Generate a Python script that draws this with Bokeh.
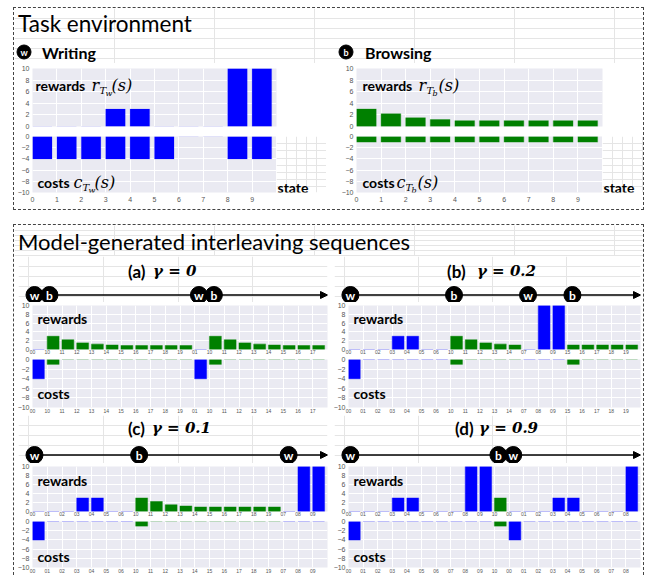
from bokeh.plotting import figure
from bokeh.layouts import column, row
from bokeh.models import FixedTicker, Arrow, NormalHead, Range1d, Spacer
from bokeh.embed import file_html
from bokeh.resources import INLINE
from bokeh.core.properties import value

# ---------------- data ----------------
ENV_STATES = ["0", "1", "2", "3", "4", "5", "6", "7", "8", "9"]
STATE_AXIS_LABEL = "state"
WRITING_REWARDS = [0, 0, 0, 3, 3, 0, 0, 0, 10, 10]
WRITING_COSTS = [-4, -4, -4, -4, -4, -4, 0, 0, -4, -4]
BROWSING_REWARDS = [3.0, 2.2, 1.5, 1.2, 1.0, 1.0, 1.0, 1.0, 1.0, 1.0]
BROWSING_COSTS = [-1, -1, -1, -1, -1, -1, -1, -1, -1, -1]

REWARD_TICKS = [0, 2, 4, 6, 8, 10]
COST_TICKS = [-10, -8, -6, -4, -2, 0]

A_LABELS = ["00", "10", "11", "12", "13", "14", "15", "16", "17", "18", "19",
            "01", "10", "11", "12", "13", "14", "15", "16", "17"]
A_REWARDS = [0, 3.0, 2.2, 1.5, 1.2, 1.0, 0.9, 0.9, 0.9, 0.9, 0.9,
             0, 3.0, 2.2, 1.5, 1.2, 1.0, 0.9, 0.9, 0.9]
A_COSTS = [-4, -1, 0, 0, 0, 0, 0, 0, 0, 0, 0,
           -4, -1, 0, 0, 0, 0, 0, 0, 0]

B_LABELS = ["00", "01", "02", "03", "04", "05", "06", "10", "11", "12", "13", "14",
            "07", "08", "09", "15", "16", "17", "18", "19"]
B_REWARDS = [0, 0, 0, 3, 3, 0, 0, 3.0, 2.2, 1.5, 1.2, 1.0,
             0, 10, 10, 1.0, 1.0, 1.0, 1.0, 1.0]
B_COSTS = [-4, 0, 0, 0, 0, 0, 0, -1, 0, 0, 0, 0,
           0, 0, 0, -1, 0, 0, 0, 0]

C_LABELS = ["00", "01", "02", "03", "04", "05", "06", "10", "11", "12", "13", "14",
            "15", "16", "17", "18", "19", "07", "08", "09"]
C_REWARDS = [0, 0, 0, 3, 3, 0, 0, 3.0, 2.2, 1.5, 1.2, 1.0,
             1.0, 1.0, 1.0, 1.0, 1.0, 0, 10, 10]
C_COSTS = [-4, 0, 0, 0, 0, 0, 0, -1, 0, 0, 0, 0,
           0, 0, 0, 0, 0, 0, 0, 0]

D_LABELS = ["00", "01", "02", "03", "04", "05", "06", "07", "08", "09", "10",
            "00", "01", "02", "03", "04", "05", "06", "07", "08"]
D_REWARDS = [0, 0, 0, 3, 3, 0, 0, 0, 10, 10, 3.0,
             0, 0, 0, 3, 3, 0, 0, 0, 10]
D_COSTS = [-4, 0, 0, 0, 0, 0, 0, 0, 0, 0, -1,
           -4, 0, 0, 0, 0, 0, 0, 0, 0]

TITLES = {"a": ("(a)", "γ = 0"), "b": ("(b)", "γ = 0.2"),
          "c": ("(c)", "γ = 0.1"), "d": ("(d)", "γ = 0.9")}

# ---------------- style ----------------
BG = "#EAEAF2"
BLUE = "#0000FF"
GREEN = "#008000"
TICK_COLOR = "#555555"
SANS = "Lato"
SERIF = "DejaVu Serif"
DASH = "1.5px dashed #444444"


def base_fig(width, height, xr, yr, bl, br, bt, bb, x_axis=True, y_axis=True):
    p = figure(width=width, height=height, x_range=xr, y_range=yr,
               output_backend="svg", toolbar_location=None, title=None,
               x_axis_location="below" if x_axis else None,
               y_axis_location="left" if y_axis else None,
               min_border_left=bl, min_border_right=br,
               min_border_top=bt, min_border_bottom=bb)
    p.outline_line_color = None
    p.border_fill_color = None
    return p


def quiet_axis(ax, font, stand, color=TICK_COLOR, family="Liberation Sans"):
    ax.axis_line_color = None
    ax.major_tick_line_color = None
    ax.minor_tick_line_color = None
    ax.major_tick_out = 0
    ax.major_tick_in = 0
    ax.minor_tick_out = 0
    ax.minor_tick_in = 0
    ax.major_label_text_font_size = font
    ax.major_label_text_font = family
    ax.major_label_text_color = color
    ax.major_label_standoff = stand


def task_colors(labels):
    return [BLUE if lab[0] == "0" else GREEN for lab in labels]


def panel(vals, colors, yticks, width, height, bl, br, bt, bb,
          tick_labels=None, xfont="5px", xstand=1, zero_alpha=0.45):
    n = len(vals)
    yr = Range1d(0, 10) if yticks[0] == 0 else Range1d(-10, 0)
    p = base_fig(width, height, Range1d(0, n), yr, bl, br, bt, bb,
                 x_axis=tick_labels is not None)
    p.background_fill_color = BG
    p.yaxis.ticker = FixedTicker(ticks=yticks)
    for ax in p.yaxis:
        quiet_axis(ax, "7px", 3)
    if tick_labels is not None:
        p.xaxis.ticker = FixedTicker(ticks=list(range(n)))
        p.xaxis.major_label_overrides = {i: t for i, t in enumerate(tick_labels)}
        for ax in p.xaxis:
            quiet_axis(ax, xfont, xstand)
    p.xgrid.ticker = FixedTicker(ticks=list(range(n + 1)))
    p.ygrid.ticker = FixedTicker(ticks=yticks)
    p.xgrid.grid_line_color = "white"
    p.ygrid.grid_line_color = "white"
    p.xgrid.grid_line_width = 1
    p.ygrid.grid_line_width = 1
    xs = [i + 0.4 for i in range(n)]
    p.vbar(x=xs, width=0.8, top=vals, bottom=0, fill_color=colors,
           line_color=colors, line_alpha=zero_alpha, line_width=1.2)
    return p


def math_label(p, y, word, var, sub, subsub, offs):
    ow, ov, os_, oss, op = offs
    p.text(x=[0], y=[y], text=[word], x_offset=ow, text_font=value(SANS),
           text_font_style="bold", text_font_size="14px", text_baseline="middle",
           text_color="black")
    p.text(x=[0], y=[y], text=[var], x_offset=ov, y_offset=0, text_font=value(SERIF),
           text_font_style="italic", text_font_size="16px", text_baseline="middle",
           text_color="black")
    p.text(x=[0], y=[y], text=[sub], x_offset=os_, y_offset=5, text_font=value(SERIF),
           text_font_style="italic", text_font_size="10px", text_baseline="middle",
           text_color="black")
    p.text(x=[0], y=[y], text=[subsub], x_offset=oss, y_offset=8, text_font=value(SERIF),
           text_font_style="italic", text_font_size="8px", text_baseline="middle",
           text_color="black")
    p.text(x=[0], y=[y], text=["(s)"], x_offset=op, y_offset=0, text_font=value(SERIF),
           text_font_style="italic", text_font_size="16px", text_baseline="middle",
           text_color="black")


def word_label(p, y, word, off=5):
    p.text(x=[0], y=[y], text=[word], x_offset=off, text_font=value(SANS),
           text_font_style="bold", text_font_size="14px", text_baseline="middle",
           text_color="black")


def state_fig(width, height, label_y):
    # a small blank strip to the right of a costs panel holding the "state" caption
    p = base_fig(width, height, Range1d(0, width), Range1d(height, 0), 0, 0, 0, 0,
                 False, False)
    p.background_fill_color = None
    p.text(x=[1], y=[label_y], text=[STATE_AXIS_LABEL], text_font=value(SANS),
           text_font_style="bold", text_font_size="14px", text_baseline="middle",
           text_color="black")
    return p


def timeline(labels, width, bl, br, height, key, x0, x1, ty, ly, frame_w):
    n = len(labels)
    ppu = frame_w / n
    pad = 10
    p = base_fig(width, height, Range1d(-pad / ppu, n), Range1d(height, 0),
                 bl - pad, br, 0, 0, False, False)
    p.background_fill_color = None
    tasks = [lab[0] for lab in labels]
    sw = [i for i in range(n) if i == 0 or tasks[i] != tasks[i - 1]]
    xs = [i + 0.4 for i in sw]
    p.add_layout(Arrow(end=NormalHead(size=7, fill_color="black", line_color="black"),
                       x_start=xs[0], y_start=ly, x_end=n, y_end=ly,
                       line_color="black", line_width=1.6, level="underlay"))
    p.scatter(x=xs, y=[ly] * len(xs), size=17, fill_color="black", line_color="black")
    p.text(x=xs, y=[ly] * len(xs), text=["w" if tasks[i] == "0" else "b" for i in sw],
           text_color="white", text_align="center", text_baseline="middle",
           text_font=value(SANS), text_font_style="bold", text_font_size="12px")
    part0, part1 = TITLES[key]
    p.text(x=[x0], y=[ty], text=[part0], text_font=value(SANS), text_font_style="bold",
           text_font_size="17px", text_baseline="middle", text_color="black")
    p.text(x=[x1], y=[ty], text=[part1], text_font=value(SERIF),
           text_font_style="bold italic", text_font_size="15px",
           text_baseline="middle", text_color="black")
    return p


# ---------------- task environment ----------------
IW = 629
hdr_env = base_fig(IW, 55, Range1d(0, IW), Range1d(55, 0), 0, 0, 0, 0, False, False)
hdr_env.background_fill_color = None
hdr_env.text(x=[3.5], y=[14.5], text=["Task environment"], text_font=value(SANS),
             text_font_size="22.5px", text_baseline="middle", text_color="black")
hdr_env.scatter(x=[9.5, 331.5], y=[43.5, 43.5], size=14, fill_color="black",
                line_color="black")
hdr_env.text(x=[9.5, 331.5], y=[43.5, 43.5], text=["w", "b"], text_color="white",
             text_align="center", text_baseline="middle", text_font=value(SANS),
             text_font_style="bold", text_font_size="9px")
hdr_env.text(x=[27.5, 350.5], y=[43.5, 43.5], text=["Writing", "Browsing"],
             text_font=value(SANS), text_font_style="bold", text_font_size="16px",
             text_baseline="middle", text_color="black")

rew_w = panel(WRITING_REWARDS, [BLUE] * 10, REWARD_TICKS, 312, 68, 18, 50, 5, 5,
              zero_alpha=0.15)
cost_w = panel(WRITING_COSTS, [BLUE] * 10, COST_TICKS, 262, 78, 18, 0, 5, 17,
               tick_labels=ENV_STATES, xfont="7px", xstand=4, zero_alpha=0.15)
rew_b = panel(BROWSING_REWARDS, [GREEN] * 10, REWARD_TICKS, 317, 68, 30, 41, 5, 5,
              zero_alpha=0.3)
cost_b = panel(BROWSING_COSTS, [GREEN] * 10, COST_TICKS, 276, 78, 30, 0, 5, 17,
               tick_labels=ENV_STATES, xfont="7px", xstand=4, zero_alpha=0.3)

math_label(rew_w, 7.15, "rewards", "r", "T", "w", (3, 59, 67, 73, 79))
math_label(cost_w, -8.3, "costs", "c", "T", "w", (5, 41, 50, 56, 62))
math_label(rew_b, 7.15, "rewards", "r", "T", "b", (6, 62, 70, 76, 82))
math_label(cost_b, -8.3, "costs", "c", "T", "b", (6, 40, 49, 55, 61))

st_w = state_fig(50, 78, 70.5)
st_b = state_fig(41, 78, 70.5)

top_box = column(
    hdr_env,
    row(column(rew_w, row(cost_w, st_w, spacing=0), spacing=0),
        column(rew_b, row(cost_b, st_b, spacing=0), spacing=0), spacing=0),
    spacing=0, styles={"border": DASH})

# ---------------- sequences ----------------
hdr_seq = base_fig(IW, 31, Range1d(0, IW), Range1d(31, 0), 0, 0, 0, 0, False, False)
hdr_seq.background_fill_color = None
hdr_seq.text(x=[3.5], y=[15.5], text=["Model-generated interleaving sequences"],
             text_font=value(SANS), text_font_size="22px", text_baseline="middle",
             text_color="black")

WL, WR = 316, 313
FL, FR = 299, 296


def seq_block(labels, rewards, costs, key, width, br, frame_w, hh, rh, ch, x0, x1, ty, ly,
              ry, cy):
    cols = task_colors(labels)
    t = timeline(labels, width, 14, br, hh, key, x0, x1, ty, ly, frame_w)
    r = panel(rewards, cols, REWARD_TICKS, width, rh, 14, br, 3, 6,
              tick_labels=labels, xfont="5px", xstand=0)
    c = panel(costs, cols, COST_TICKS, width, ch, 14, br, 3, 8,
              tick_labels=labels, xfont="5px", xstand=1)
    word_label(r, ry, "rewards")
    word_label(c, cy, "costs")
    return column(row(t, spacing=0), r, c, spacing=0)


blk_a = seq_block(A_LABELS, A_REWARDS, A_COSTS, "a", WL, 3, FL, 46, 54, 59,
                  6.66, 8.33, 14.5, 38.5, 7.1, -7.1)
blk_b = seq_block(B_LABELS, B_REWARDS, B_COSTS, "b", WR, 3, FR, 46, 54, 59,
                  6.93, 8.95, 14.5, 38.5, 7.1, -7.1)
blk_c = seq_block(C_LABELS, C_REWARDS, C_COSTS, "c", WL, 3, FL, 48, 55, 57,
                  6.66, 8.26, 12.5, 39.5, 6.8, -7.5)
blk_d = seq_block(D_LABELS, D_REWARDS, D_COSTS, "d", WR, 3, FR, 48, 55, 57,
                  7.47, 9.09, 12.5, 39.5, 6.8, -7.5)

bot_box = column(hdr_seq, row(blk_a, blk_b, spacing=0), row(blk_c, blk_d, spacing=0),
                 spacing=0, styles={"border": DASH, "border-bottom": "none"})

layout = row(Spacer(width=13),
             column(Spacer(height=7), top_box, Spacer(height=14), bot_box, spacing=0),
             spacing=0)

with open("out.html", "w") as f:
    f.write(file_html(layout, INLINE))
